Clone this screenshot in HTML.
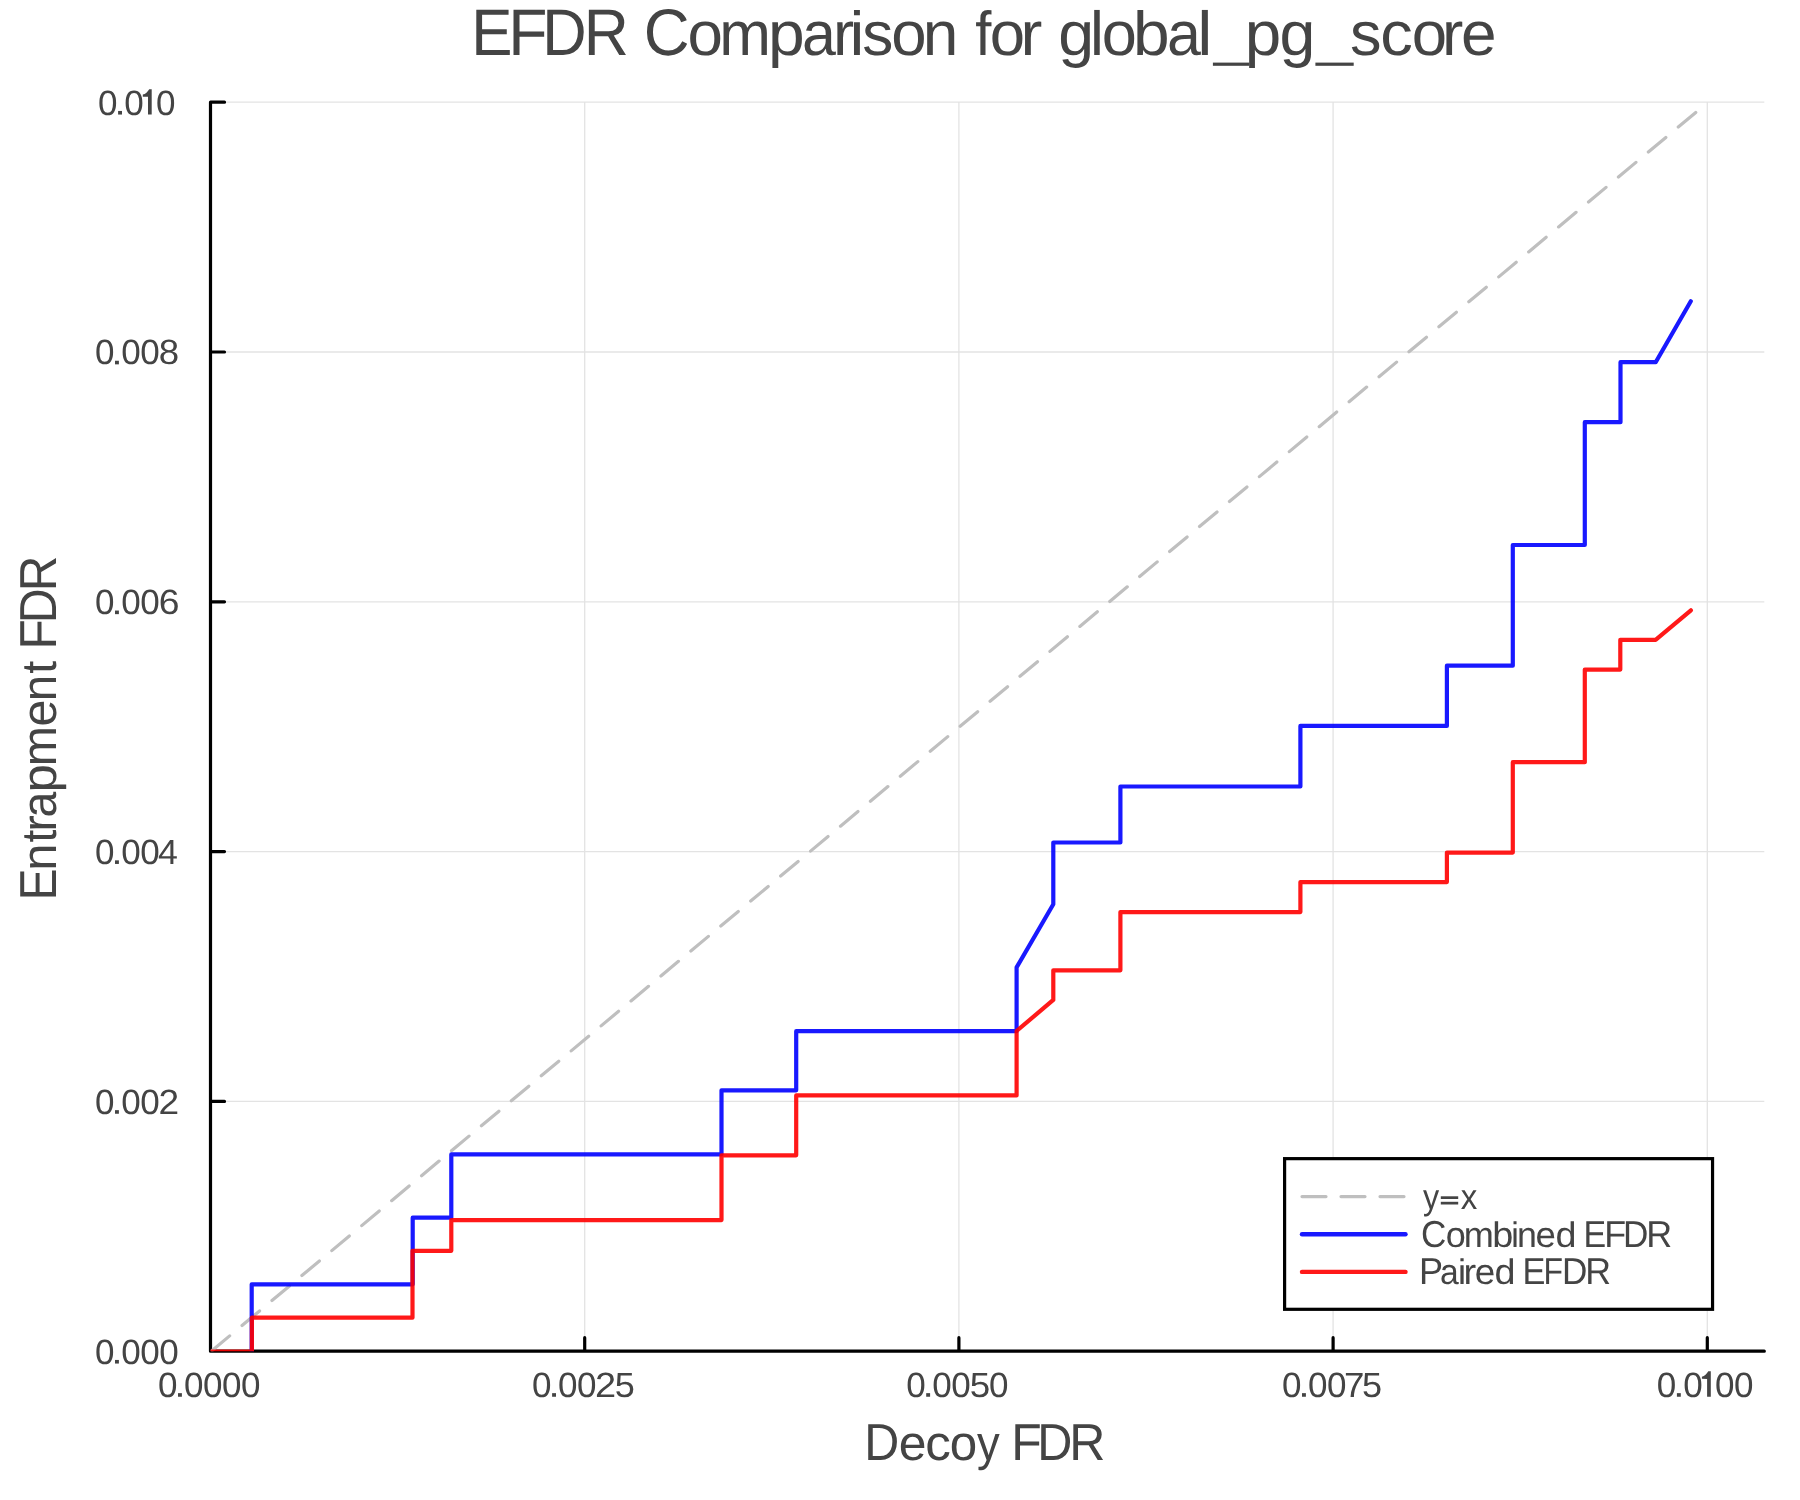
<!DOCTYPE html>
<html><head><meta charset="utf-8"><title>EFDR Comparison</title>
<style>html,body{margin:0;padding:0;background:#fff;overflow:hidden} text{filter:grayscale(1);text-rendering:geometricPrecision}</style></head>
<body>
<svg width="1800" height="1500" viewBox="0 0 1800 1500" style="display:block;font-family:'Liberation Sans',sans-serif"><g>
<defs><clipPath id="clip"><rect x="210.5" y="102.5" width="1553.8" height="1248.7"/></clipPath></defs>
<rect width="1800" height="1500" fill="#fff"/>
<path d="M584.70 102.5V1351.2 M958.90 102.5V1351.2 M1333.10 102.5V1351.2 M1707.30 102.5V1351.2 M210.5 1101.40H1764.3 M210.5 851.60H1764.3 M210.5 601.80H1764.3 M210.5 352.00H1764.3 M210.5 102.20H1764.3" stroke="#e3e3e3" stroke-width="1.3" fill="none"/>
<path d="M210.5 102.5 V1351.2 H1764.3 M584.70 1351.2 V1337.7 M958.90 1351.2 V1337.7 M1333.10 1351.2 V1337.7 M1707.30 1351.2 V1337.7 M210.5 1101.40 H224.5 M210.5 851.60 H224.5 M210.5 601.80 H224.5 M210.5 352.00 H224.5 M210.5 102.20 H224.5" stroke="#000" stroke-width="3.2" stroke-linecap="round" stroke-linejoin="round" fill="none"/>
<g clip-path="url(#clip)"><g transform="translate(0.4,0.3)"><path d="M210.5 1351.2 L1700.00 108.29" stroke="#bfbfbf" stroke-width="3.2" stroke-dasharray="22.8 16.17" stroke-dashoffset="-1.6" stroke-linecap="round" fill="none"/><path d="M251.3 1351.2 L251.3 1284 L412.3 1284 L412.3 1217.4 L450.9 1217.4 L450.9 1154.1 L721.1 1154.1 L721.1 1090 L795.8 1090 L795.8 1030.9 L1016.2 1030.9 L1016.2 967.1 L1052.9 904 L1052.9 842.2 L1120 842.2 L1120 786.2 L1300 786.2 L1300 725.6 L1446.5 725.6 L1446.5 665.4 L1512.4 665.4 L1512.4 544.7 L1584.4 544.7 L1584.4 421.9 L1620.1 421.9 L1620.1 361.9 L1655.3 361.9 L1690.4 301" stroke="#0000ff" stroke-opacity="0.9" stroke-width="4.2" stroke-linejoin="round" stroke-linecap="round" fill="none"/><path d="M210.5 1351.2 L251.5 1351.2 L251.5 1317.4 L412.1 1317.4 L412.1 1250.5 L450.9 1250.5 L450.9 1219.8 L721.1 1219.8 L721.1 1155 L795.8 1155 L795.8 1095.1 L1016.2 1095.1 L1016.2 1030.7 L1052.9 999.6 L1052.9 970 L1120 970 L1120 911.8 L1300 911.8 L1300 881.8 L1446.5 881.8 L1446.5 852.3 L1512.4 852.3 L1512.4 761.9 L1584.4 761.9 L1584.4 669.3 L1619.9 669.3 L1619.9 639.5 L1655.2 639.5 L1690.5 610" stroke="#ff0000" stroke-opacity="0.9" stroke-width="4.2" stroke-linejoin="round" stroke-linecap="round" fill="none"/></g></g>
<text transform="translate(157.93,1396.75) scale(1.0011,1)" font-size="35.0" fill="#444444">0</text><rect x="178.00" y="1393.15" width="3.9" height="3.6" fill="#444444"/><text transform="translate(183.93,1396.75) scale(1.0011,1)" font-size="35.0" fill="#444444">0</text><text transform="translate(202.93,1396.75) scale(1.0011,1)" font-size="35.0" fill="#444444">0</text><text transform="translate(221.93,1396.75) scale(1.0011,1)" font-size="35.0" fill="#444444">0</text><text transform="translate(241.03,1396.75) scale(1.0011,1)" font-size="35.0" fill="#444444">0</text>
<text transform="translate(532.03,1396.75) scale(1.0011,1)" font-size="35.0" fill="#444444">0</text><rect x="552.10" y="1393.15" width="3.9" height="3.6" fill="#444444"/><text transform="translate(558.03,1396.75) scale(1.0011,1)" font-size="35.0" fill="#444444">0</text><text transform="translate(577.03,1396.75) scale(1.0011,1)" font-size="35.0" fill="#444444">0</text><text transform="translate(595.09,1396.75) scale(1.0850,1)" font-size="35.0" fill="#444444">2</text><text transform="translate(614.86,1396.75) scale(1.0305,1)" font-size="35.0" fill="#444444">5</text>
<text transform="translate(906.13,1396.75) scale(1.0011,1)" font-size="35.0" fill="#444444">0</text><rect x="926.20" y="1393.15" width="3.9" height="3.6" fill="#444444"/><text transform="translate(932.13,1396.75) scale(1.0011,1)" font-size="35.0" fill="#444444">0</text><text transform="translate(951.13,1396.75) scale(1.0011,1)" font-size="35.0" fill="#444444">0</text><text transform="translate(969.73,1396.75) scale(1.0486,1)" font-size="35.0" fill="#444444">5</text><text transform="translate(988.93,1396.75) scale(1.0011,1)" font-size="35.0" fill="#444444">0</text>
<text transform="translate(1281.93,1396.75) scale(1.0011,1)" font-size="35.0" fill="#444444">0</text><rect x="1302.00" y="1393.15" width="3.9" height="3.6" fill="#444444"/><text transform="translate(1307.93,1396.75) scale(1.0011,1)" font-size="35.0" fill="#444444">0</text><text transform="translate(1327.03,1396.75) scale(1.0011,1)" font-size="35.0" fill="#444444">0</text><text transform="translate(1344.02,1396.75) scale(1.0496,1)" font-size="35.0" fill="#444444">7</text><text transform="translate(1361.96,1396.75) scale(1.0305,1)" font-size="35.0" fill="#444444">5</text>
<text transform="translate(1656.83,1396.75) scale(1.0011,1)" font-size="35.0" fill="#444444">0</text><rect x="1676.90" y="1393.15" width="3.9" height="3.6" fill="#444444"/><text transform="translate(1683.13,1396.75) scale(1.0011,1)" font-size="35.0" fill="#444444">0</text><path d="M1710.80 1371.35 L1710.80 1396.75 L1707.10 1396.75 L1707.10 1378.95 L1701.90 1378.85 L1701.90 1376.75 C1704.60 1376.15 1706.80 1373.85 1708.30 1371.35 Z" fill="#444444"/><text transform="translate(1714.93,1396.75) scale(1.0011,1)" font-size="35.0" fill="#444444">0</text><text transform="translate(1733.93,1396.75) scale(1.0011,1)" font-size="35.0" fill="#444444">0</text>
<text transform="translate(95.03,1363.55) scale(1.0011,1)" font-size="35.0" fill="#444444">0</text><rect x="115.00" y="1359.95" width="3.9" height="3.6" fill="#444444"/><text transform="translate(121.13,1363.55) scale(1.0011,1)" font-size="35.0" fill="#444444">0</text><text transform="translate(140.18,1363.55) scale(1.0011,1)" font-size="35.0" fill="#444444">0</text><text transform="translate(159.13,1363.55) scale(1.0011,1)" font-size="35.0" fill="#444444">0</text>
<text transform="translate(95.03,1113.75) scale(1.0011,1)" font-size="35.0" fill="#444444">0</text><rect x="115.00" y="1110.15" width="3.9" height="3.6" fill="#444444"/><text transform="translate(121.13,1113.75) scale(1.0011,1)" font-size="35.0" fill="#444444">0</text><text transform="translate(140.18,1113.75) scale(1.0011,1)" font-size="35.0" fill="#444444">0</text><text transform="translate(158.43,1113.75) scale(1.0599,1)" font-size="35.0" fill="#444444">2</text>
<text transform="translate(95.03,863.95) scale(1.0011,1)" font-size="35.0" fill="#444444">0</text><rect x="115.00" y="860.35" width="3.9" height="3.6" fill="#444444"/><text transform="translate(121.13,863.95) scale(1.0011,1)" font-size="35.0" fill="#444444">0</text><text transform="translate(140.18,863.95) scale(1.0011,1)" font-size="35.0" fill="#444444">0</text><text transform="translate(158.08,863.95) scale(1.0206,1)" font-size="35.0" fill="#444444">4</text>
<text transform="translate(95.03,614.15) scale(1.0011,1)" font-size="35.0" fill="#444444">0</text><rect x="115.00" y="610.55" width="3.9" height="3.6" fill="#444444"/><text transform="translate(121.13,614.15) scale(1.0011,1)" font-size="35.0" fill="#444444">0</text><text transform="translate(140.18,614.15) scale(1.0011,1)" font-size="35.0" fill="#444444">0</text><text transform="translate(158.71,614.15) scale(1.0650,1)" font-size="35.0" fill="#444444">6</text>
<text transform="translate(95.03,364.35) scale(1.0011,1)" font-size="35.0" fill="#444444">0</text><rect x="115.00" y="360.75" width="3.9" height="3.6" fill="#444444"/><text transform="translate(121.13,364.35) scale(1.0011,1)" font-size="35.0" fill="#444444">0</text><text transform="translate(140.18,364.35) scale(1.0011,1)" font-size="35.0" fill="#444444">0</text><text transform="translate(158.71,364.35) scale(1.0473,1)" font-size="35.0" fill="#444444">8</text>
<text transform="translate(98.03,114.55) scale(1.0011,1)" font-size="35.0" fill="#444444">0</text><rect x="118.10" y="110.95" width="3.9" height="3.6" fill="#444444"/><text transform="translate(124.23,114.55) scale(1.0011,1)" font-size="35.0" fill="#444444">0</text><path d="M151.70 89.15 L151.70 114.55 L148.00 114.55 L148.00 96.75 L142.80 96.65 L142.80 94.55 C145.50 93.95 147.70 91.65 149.20 89.15 Z" fill="#444444"/><text transform="translate(155.93,114.55) scale(1.0011,1)" font-size="35.0" fill="#444444">0</text>
<text transform="translate(471.33,54.70) scale(0.9379,1)" font-size="65.9" fill="#444444">E</text><text transform="translate(508.13,54.70) scale(0.9749,1)" font-size="65.9" fill="#444444">F</text><text transform="translate(542.26,54.70) scale(0.9326,1)" font-size="65.9" fill="#444444">D</text><text transform="translate(583.67,54.70) scale(0.9482,1)" font-size="65.9" fill="#444444">R</text><text transform="translate(643.78,54.70) scale(0.9632,1)" font-size="65.9" fill="#444444">C</text><text transform="translate(687.52,54.70) scale(1.0249,1)" font-size="62.2" fill="#444444">o</text><text transform="translate(719.28,54.70) scale(0.9981,1)" font-size="62.2" fill="#444444">m</text><text transform="translate(768.04,54.70) scale(1.0618,1)" font-size="62.2" fill="#444444">p</text><text transform="translate(802.01,54.70) scale(0.9796,1)" font-size="62.2" fill="#444444">a</text><text transform="translate(832.98,54.70) scale(1.0225,1)" font-size="62.2" fill="#444444">r</text><text transform="translate(849.51,54.70) scale(1.0792,1)" font-size="62.2" fill="#444444">i</text><text transform="translate(862.17,54.70) scale(0.9992,1)" font-size="62.2" fill="#444444">s</text><text transform="translate(891.23,54.70) scale(1.0215,1)" font-size="62.2" fill="#444444">o</text><text transform="translate(922.85,54.70) scale(1.0294,1)" font-size="62.2" fill="#444444">n</text><text transform="translate(975.18,54.70) scale(0.9338,1)" font-size="62.2" fill="#444444">f</text><text transform="translate(989.63,54.70) scale(1.0215,1)" font-size="62.2" fill="#444444">o</text><text transform="translate(1020.44,54.70) scale(1.0547,1)" font-size="62.2" fill="#444444">r</text><text transform="translate(1058.19,54.70) scale(1.0368,1)" font-size="62.2" fill="#444444">g</text><text transform="translate(1089.88,54.70) scale(1.0061,1)" font-size="62.2" fill="#444444">l</text><text transform="translate(1101.65,54.70) scale(1.0147,1)" font-size="62.2" fill="#444444">o</text><text transform="translate(1133.06,54.70) scale(1.0582,1)" font-size="62.2" fill="#444444">b</text><text transform="translate(1166.91,54.70) scale(0.9796,1)" font-size="62.2" fill="#444444">a</text><text transform="translate(1197.20,54.70) scale(1.0975,1)" font-size="62.2" fill="#444444">l</text><rect x="1212.90" y="62.60" width="36.40" height="3.20" fill="#444444"/><text transform="translate(1244.87,54.70) scale(1.0546,1)" font-size="62.2" fill="#444444">p</text><text transform="translate(1279.39,54.70) scale(1.0368,1)" font-size="62.2" fill="#444444">g</text><rect x="1315.40" y="62.60" width="38.30" height="3.20" fill="#444444"/><text transform="translate(1350.04,54.70) scale(1.0140,1)" font-size="62.2" fill="#444444">s</text><text transform="translate(1380.33,54.70) scale(1.0478,1)" font-size="62.2" fill="#444444">c</text><text transform="translate(1411.73,54.70) scale(1.0215,1)" font-size="62.2" fill="#444444">o</text><text transform="translate(1442.05,54.70) scale(1.0289,1)" font-size="62.2" fill="#444444">r</text><text transform="translate(1460.88,54.70) scale(1.0279,1)" font-size="62.2" fill="#444444">e</text>
<text transform="translate(864.23,1459.90) scale(0.9319,1)" font-size="52.0" fill="#444444">D</text><text transform="translate(898.68,1459.90) scale(1.0156,1)" font-size="49.1" fill="#444444">e</text><text transform="translate(925.32,1459.90) scale(1.0440,1)" font-size="49.1" fill="#444444">c</text><text transform="translate(949.73,1459.90) scale(1.0050,1)" font-size="49.1" fill="#444444">o</text><text transform="translate(976.99,1459.90) scale(0.9246,1)" font-size="49.1" fill="#444444">y</text><text transform="translate(1011.20,1459.90) scale(0.9600,1)" font-size="52.0" fill="#444444">F</text><text transform="translate(1037.21,1459.90) scale(0.9351,1)" font-size="52.0" fill="#444444">D</text><text transform="translate(1069.20,1459.90) scale(0.9619,1)" font-size="52.0" fill="#444444">R</text>
<text transform="translate(55.90,900.44) rotate(-90) scale(0.9225,1)" font-size="52.0" fill="#444444">E</text><text transform="translate(55.90,870.75) rotate(-90) scale(0.9972,1)" font-size="49.1" fill="#444444">n</text><text transform="translate(55.90,842.59) rotate(-90) scale(0.9331,1)" font-size="49.1" fill="#444444">t</text><text transform="translate(55.90,831.79) rotate(-90) scale(1.0102,1)" font-size="49.1" fill="#444444">r</text><text transform="translate(55.90,817.47) rotate(-90) scale(0.9436,1)" font-size="49.1" fill="#444444">a</text><text transform="translate(55.90,792.40) rotate(-90) scale(1.0416,1)" font-size="49.1" fill="#444444">p</text><text transform="translate(55.90,766.30) rotate(-90) scale(0.9825,1)" font-size="49.1" fill="#444444">m</text><text transform="translate(55.90,726.56) rotate(-90) scale(0.9853,1)" font-size="49.1" fill="#444444">e</text><text transform="translate(55.90,701.26) rotate(-90) scale(0.9685,1)" font-size="49.1" fill="#444444">n</text><text transform="translate(55.90,673.71) rotate(-90) scale(0.9491,1)" font-size="49.1" fill="#444444">t</text><text transform="translate(55.90,649.56) rotate(-90) scale(0.9522,1)" font-size="52.0" fill="#444444">F</text><text transform="translate(55.90,623.35) rotate(-90) scale(0.9254,1)" font-size="52.0" fill="#444444">D</text><text transform="translate(55.90,591.35) rotate(-90) scale(0.9490,1)" font-size="52.0" fill="#444444">R</text>
<rect x="1284.6" y="1158.65" width="427.95" height="150.65" fill="#fff" stroke="#000" stroke-width="3.2"/>
<path d="M1302 1196.6 H1405.5" stroke="#bfbfbf" stroke-width="3.2" stroke-dasharray="24 15" stroke-linecap="round" fill="none"/>
<path d="M1302 1234.2 H1405.5" stroke="#0000ff" stroke-opacity="0.9" stroke-width="4.4" stroke-linecap="round" fill="none"/>
<path d="M1302 1271.9 H1405.5" stroke="#ff0000" stroke-opacity="0.9" stroke-width="4.4" stroke-linecap="round" fill="none"/>
<text transform="translate(1422.92,1208.80) scale(0.9068,1)" font-size="35.6" fill="#444444">y</text><rect x="1440.80" y="1196.3" width="17.40" height="2.7" fill="#444444"/><rect x="1440.80" y="1201.8" width="17.40" height="2.7" fill="#444444"/><text transform="translate(1460.63,1208.80) scale(0.9284,1)" font-size="35.6" fill="#444444">x</text>
<text transform="translate(1421.02,1246.80) scale(0.9348,1)" font-size="37.5" fill="#444444">C</text><text transform="translate(1445.69,1246.80) scale(1.0114,1)" font-size="35.6" fill="#444444">o</text><text transform="translate(1463.80,1246.80) scale(1.0143,1)" font-size="35.6" fill="#444444">m</text><text transform="translate(1492.36,1246.80) scale(1.0619,1)" font-size="35.6" fill="#444444">b</text><text transform="translate(1511.22,1246.80) scale(0.9588,1)" font-size="35.6" fill="#444444">i</text><text transform="translate(1517.12,1246.80) scale(1.0051,1)" font-size="35.6" fill="#444444">n</text><text transform="translate(1535.44,1246.80) scale(1.0296,1)" font-size="35.6" fill="#444444">e</text><text transform="translate(1555.41,1246.80) scale(1.0619,1)" font-size="35.6" fill="#444444">d</text><text transform="translate(1583.52,1246.80) scale(0.9053,1)" font-size="37.5" fill="#444444">E</text><text transform="translate(1604.16,1246.80) scale(0.9548,1)" font-size="37.5" fill="#444444">F</text><text transform="translate(1623.12,1246.80) scale(0.9365,1)" font-size="37.5" fill="#444444">D</text><text transform="translate(1646.16,1246.80) scale(0.9566,1)" font-size="37.5" fill="#444444">R</text>
<text transform="translate(1419.04,1283.90) scale(0.9620,1)" font-size="37.5" fill="#444444">P</text><text transform="translate(1440.07,1283.90) scale(0.9460,1)" font-size="35.6" fill="#444444">a</text><text transform="translate(1458.06,1283.90) scale(1.0227,1)" font-size="35.6" fill="#444444">i</text><text transform="translate(1463.48,1283.90) scale(1.0674,1)" font-size="35.6" fill="#444444">r</text><text transform="translate(1474.63,1283.90) scale(1.0356,1)" font-size="35.6" fill="#444444">e</text><text transform="translate(1494.41,1283.90) scale(1.0619,1)" font-size="35.6" fill="#444444">d</text><text transform="translate(1522.38,1283.90) scale(0.9151,1)" font-size="37.5" fill="#444444">E</text><text transform="translate(1543.58,1283.90) scale(0.8511,1)" font-size="37.5" fill="#444444">F</text><text transform="translate(1562.12,1283.90) scale(0.9365,1)" font-size="37.5" fill="#444444">D</text><text transform="translate(1585.27,1283.90) scale(0.9521,1)" font-size="37.5" fill="#444444">R</text>
</g></svg>
</body></html>
